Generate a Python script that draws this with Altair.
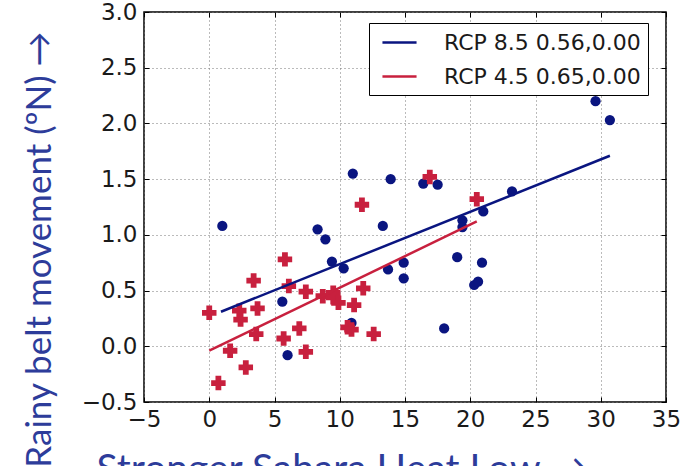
import altair as alt
import pandas as pd

# ---- data ----
rcp85_x = [1.0, 8.3, 8.9, 9.4, 10.3, 11.0, 13.9, 13.3, 13.7, 14.9, 14.9, 16.4, 17.5,
           19.4, 19.4, 19.0, 21.0, 20.9, 20.3, 20.6, 18.0, 23.2, 29.6, 30.7, 5.6, 6.0, 10.9]
rcp85_y = [1.08, 1.05, 0.96, 0.76, 0.70, 1.55, 1.50, 1.08, 0.69, 0.75, 0.61, 1.46, 1.45,
           1.13, 1.07, 0.80, 1.21, 0.75, 0.55, 0.58, 0.16, 1.39, 2.20, 2.03, 0.40, -0.08, 0.21]

rcp45_x = [0.0, 0.7, 1.6, 2.3, 2.4, 2.8, 3.4, 3.7, 3.6, 5.8, 6.1, 5.7, 6.9, 7.4,
           7.4, 8.7, 9.5, 9.5, 9.9, 11.1, 11.8, 10.6, 10.9, 12.6, 11.7, 16.9, 20.5]
rcp45_y = [0.30, -0.33, -0.04, 0.32, 0.24, -0.19, 0.59, 0.34, 0.11, 0.78, 0.54, 0.07, 0.16, 0.49,
           -0.05, 0.45, 0.48, 0.44, 0.39, 0.37, 0.52, 0.17, 0.15, 0.11, 1.27, 1.52, 1.32]

fit_labels = ["RCP 8.5 0.56,0.00", "RCP 4.5 0.65,0.00"]
fit85_x = [0.9, 30.7]
fit85_y = [0.31, 1.71]
fit45_x = [0.0, 20.5]
fit45_y = [-0.04, 1.12]

x_ticks = [-5, 0, 5, 10, 15, 20, 25, 30, 35]
y_ticks = [-0.5, 0.0, 0.5, 1.0, 1.5, 2.0, 2.5, 3.0]

x_title = "Stronger Sahara Heat Low \u2192"
y_title = "Rainy belt movement (\u00baN) \u2192"

NAVY = "#0a1580"
RED = "#c8203e"
TITLE_BLUE = "#2d3c9a"

# ---- tables ----
df85 = pd.DataFrame({"x": rcp85_x, "y": rcp85_y})
df45 = pd.DataFrame({"x": rcp45_x, "y": rcp45_y})
dfit = pd.DataFrame({
    "x": fit85_x + fit45_x,
    "y": fit85_y + fit45_y,
    "series": [fit_labels[0]] * len(fit85_x) + [fit_labels[1]] * len(fit45_x),
})

x_scale = alt.Scale(domain=[-5, 35], nice=False, zero=False)
y_scale = alt.Scale(domain=[-0.5, 3.0], nice=False, zero=False)

# labelled axes (with grid)
x_enc = alt.X(
    "x:Q", scale=x_scale,
    axis=alt.Axis(
        values=x_ticks, format="d", title=x_title, labelFlush=False,
        labelPadding=6, titleX=-48, titleY=79, titleAlign="left",
        titleBaseline="alphabetic", titleFontSize=39, grid=True, ticks=False,
    ),
)
y_enc = alt.Y(
    "y:Q", scale=y_scale,
    axis=alt.Axis(
        values=y_ticks, format=".1f", title=y_title, labelFlush=False,
        labelPadding=7, titleX=-94, titleY=237, titleAlign="center",
        titleAngle=270, titleBaseline="alphabetic", titleFontSize=35,
        grid=True, ticks=False,
    ),
)


def tick_axis(orient, values):
    # tick-only axis pulled inside the frame so that its ticks point inward
    return alt.Axis(
        orient=orient, values=values, offset=-5, ticks=True, tickSize=5,
        tickColor="black", tickWidth=1, labels=False, domain=False,
        grid=False, title=None,
    )


dots = alt.Chart(df85).mark_point(
    shape="circle", filled=True, size=105, opacity=1, color=NAVY
).encode(x=x_enc, y=y_enc)

crosses = alt.Chart(df45).mark_point(
    shape="cross", filled=True, size=210, opacity=1, color=RED
).encode(
    x=alt.X("x:Q", scale=x_scale, axis=tick_axis("bottom", x_ticks)),
    y=alt.Y("y:Q", scale=y_scale, axis=tick_axis("left", y_ticks)),
)

lines = alt.Chart(dfit).mark_line(strokeWidth=2.5).encode(
    x=alt.X("x:Q", scale=x_scale, axis=tick_axis("top", x_ticks)),
    y=alt.Y("y:Q", scale=y_scale, axis=tick_axis("right", y_ticks)),
    color=alt.Color(
        "series:N",
        scale=alt.Scale(domain=fit_labels, range=[NAVY, RED]),
        sort=fit_labels,
        legend=alt.Legend(
            orient="none", legendX=225, legendY=11, title=None,
            symbolType="M-1.55,0H1.55", symbolSize=484, symbolStrokeWidth=2.5,
            symbolOffset=11,
            labelFont="DejaVu Sans", labelFontSize=22, labelColor="#1a1a1a",
            strokeColor="black", fillColor="white", padding=7, rowPadding=10,
            labelOffset=32, cornerRadius=0, labelLimit=400,
        ),
    ),
    detail="series:N",
)

chart = alt.layer(dots, crosses, lines).resolve_axis(
    x="independent", y="independent"
).properties(
    width=522,
    height=390,
    padding={"left": 144, "top": 12, "right": 20, "bottom": 64},
    autosize=alt.AutoSizeParams(type="none"),
    background="white",
).configure_view(
    stroke="black", strokeWidth=1.5
).configure_axis(
    gridColor="#777777", gridDash=[1, 3], gridWidth=1,
    domain=False,
    labelFont="DejaVu Sans", labelFontSize=23, labelColor="#1a1a1a",
    titleFont="Lato", titleColor=TITLE_BLUE, titleFontWeight="normal",
)

chart.save("out.html", embed_options={"renderer": "svg", "actions": False})
